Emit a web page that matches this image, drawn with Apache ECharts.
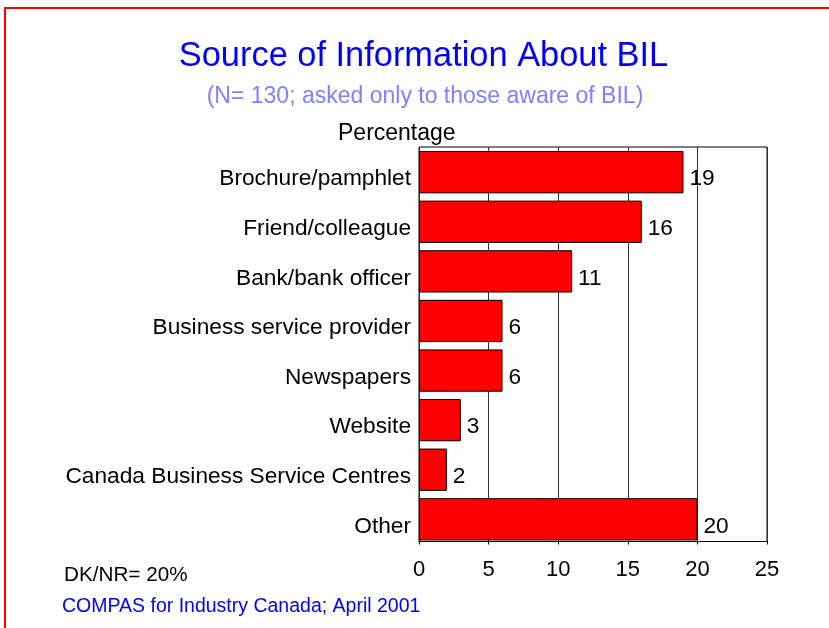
<!DOCTYPE html>
<html>
<head>
<meta charset="utf-8">
<script src="https://cdn.jsdelivr.net/npm/echarts@6/dist/echarts.min.js"></script>
<style>
  html, body { margin: 0; padding: 0; background: #fff; }
  #chart { width: 829px; height: 628px; }
</style>
</head>
<body>
<div id="chart"></div>
<script>
// Survey sources, top to bottom
const categories = [
  'Brochure/pamphlet',
  'Friend/colleague',
  'Bank/bank officer',
  'Business service provider',
  'Newspapers',
  'Website',
  'Canada Business Service Centres',
  'Other'
];
const percentages = [19, 16, 11, 6, 6, 3, 2, 20];
const axisTicks = [0, 5, 10, 15, 20, 25];

const FONT = 'Liberation Sans, Arial, sans-serif';
const xMin = axisTicks[0];
const xMax = axisTicks[axisTicks.length - 1];
const xStep = axisTicks[1] - axisTicks[0];

const chart = echarts.init(document.getElementById('chart'), null, { renderer: 'canvas' });

chart.setOption({
  backgroundColor: '#ffffff',
  animation: false,
  grid: [
    // frame, gridlines and value axis
    { left: 419, top: 147, width: 348, height: 394.5,
      show: true, borderColor: '#000', borderWidth: 1, backgroundColor: 'transparent' },
    // bar rows (slightly lower band layout than the frame)
    { left: 419, top: 147.4, width: 348, height: 396.7, show: false }
  ],
  xAxis: [
    {
      gridIndex: 0, type: 'value', min: xMin, max: xMax, interval: xStep,
      axisLine: { show: true, onZero: false, lineStyle: { color: '#000', width: 1 } },
      axisTick: { show: true, length: 3, lineStyle: { color: '#000' } },
      axisLabel: { color: '#000', fontSize: 22, fontFamily: FONT, margin: 17 },
      splitLine: { show: true, lineStyle: { color: '#333', width: 1 } }
    },
    {
      gridIndex: 1, type: 'value', min: xMin, max: xMax, interval: xStep,
      show: false
    }
  ],
  yAxis: [
    {
      gridIndex: 0, type: 'category', data: categories, inverse: true,
      axisLine: { show: false }, axisTick: { show: false }, axisLabel: { show: false },
      splitLine: { show: false }
    },
    {
      gridIndex: 1, type: 'category', data: categories, inverse: true,
      axisLine: { show: false }, axisTick: { show: false },
      axisLabel: {
        color: '#000', fontSize: 22.7, fontFamily: FONT, margin: 8,
        verticalAlign: 'top', lineHeight: 14
      },
      splitLine: { show: false }
    }
  ],
  series: [{
    type: 'bar',
    xAxisIndex: 1,
    yAxisIndex: 1,
    data: percentages,
    barCategoryGap: '14.7%',
    itemStyle: { color: '#ff0000', borderColor: '#000', borderWidth: 1 },
    label: {
      show: true, position: 'right', distance: 6, offset: [0, 7],
      color: '#000', fontSize: 22.7, fontFamily: FONT
    }
  }],
  graphic: [
    {
      type: 'rect', z: 100, silent: true,
      shape: { x: 5, y: 8, width: 900, height: 700 },
      style: { fill: 'none', stroke: '#ff0000', lineWidth: 2 }
    },
    {
      type: 'text', x: 423.5, y: 57,
      style: { text: 'Source of Information About BIL', fill: '#0000ff', font: '34.4px ' + FONT, textAlign: 'center', textVerticalAlign: 'middle' }
    },
    {
      type: 'text', x: 425, y: 97,
      style: { text: '(N= 130; asked only to those aware of BIL)', fill: '#8080ff', font: '23px ' + FONT, textAlign: 'center', textVerticalAlign: 'middle' }
    },
    {
      type: 'text', x: 338, y: 134,
      style: { text: 'Percentage', fill: '#000', font: '23px ' + FONT, textAlign: 'left', textVerticalAlign: 'middle' }
    },
    {
      type: 'text', x: 64, y: 575,
      style: { text: 'DK/NR= 20%', fill: '#000', font: '20.7px ' + FONT, textAlign: 'left', textVerticalAlign: 'middle' }
    },
    {
      type: 'text', x: 62, y: 607,
      style: { text: 'COMPAS for Industry Canada; April 2001', fill: '#0000ff', font: '19.5px ' + FONT, textAlign: 'left', textVerticalAlign: 'middle' }
    }
  ]
});
</script>
</body>
</html>
